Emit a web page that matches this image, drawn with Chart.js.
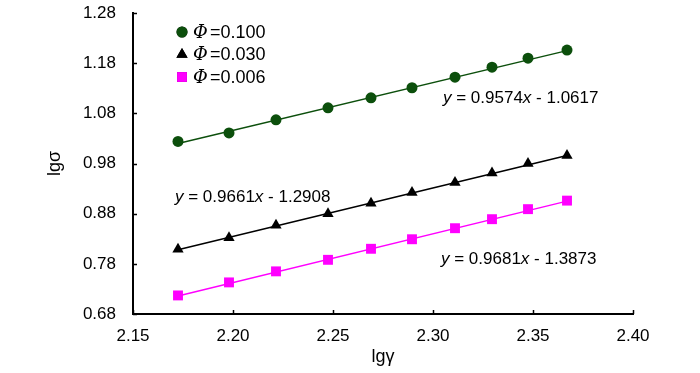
<!DOCTYPE html>
<html>
<head>
<meta charset="utf-8">
<script src="https://cdn.jsdelivr.net/npm/chart.js@4/dist/chart.umd.min.js"></script>
<style>
  html, body { margin: 0; padding: 0; background: #fff; }
  #wrap { width: 700px; height: 373px; }
</style>
</head>
<body>
<div id="wrap"><canvas id="grafica"></canvas></div>
<script>
// --------------------- DATOS ---------------------
const lgGamma = [2.1725, 2.198, 2.2215, 2.2475, 2.269, 2.2895, 2.311, 2.3295, 2.3475, 2.367];

const phi100 = [1.024, 1.041, 1.067, 1.091, 1.111, 1.131, 1.152, 1.172, 1.190, 1.206];
const phi030 = [0.809, 0.832, 0.857, 0.880, 0.901, 0.922, 0.942, 0.961, 0.980, 0.996];
const phi006 = [0.717, 0.743, 0.765, 0.788, 0.810, 0.829, 0.851, 0.869, 0.889, 0.906];

// extremos de las rectas de ajuste
const ajusteX = [2.1725, 2.367];
const ajuste100 = [1.020, 1.205];
const ajuste030 = [0.808, 0.996];
const ajuste006 = [0.716, 0.905];

const nombres = ["0.100", "0.030", "0.006"];
const ecuaciones = [
  ["0.9574", "1.0617"],
  ["0.9661", "1.2908"],
  ["0.9681", "1.3873"]
];

const ticksX = [2.15, 2.20, 2.25, 2.30, 2.35, 2.40];
const ticksY = [0.68, 0.78, 0.88, 0.98, 1.08, 1.18, 1.28];

const verde = '#0c4f0c';
const negro = '#000000';
const magenta = '#ff00ff';
const fuente = '"Liberation Sans", Arial, sans-serif';

function puntos(xs, ys) {
  return xs.map((x, i) => ({ x: x, y: ys[i] }));
}

// --------------------- TICKS HACIA ADENTRO, LEYENDA Y ECUACIONES ---------------------
const extras = {
  id: 'extras',
  afterDraw(chart) {
    const c = chart.ctx;
    const sx = chart.scales.x;
    const sy = chart.scales.y;
    const a = chart.chartArea;

    c.save();
    c.strokeStyle = '#000';
    c.lineWidth = 1.5;
    ticksX.forEach(v => {
      const px = Math.round(sx.getPixelForValue(v)) + 0.5;
      c.beginPath(); c.moveTo(px, a.bottom); c.lineTo(px, a.bottom - 4); c.stroke();
    });
    ticksY.forEach(v => {
      const py = Math.round(sy.getPixelForValue(v)) + 0.5;
      c.beginPath(); c.moveTo(a.left, py); c.lineTo(a.left + 4, py); c.stroke();
    });

    // leyenda
    const marcas = [chart.data.datasets[0], chart.data.datasets[1], chart.data.datasets[2]];
    marcas.forEach((ds, i) => {
      const y = 32 + i * 22.5;
      Chart.helpers.drawPoint(c, {
        pointStyle: ds.pointStyle,
        radius: ds.pointRadius,
        borderWidth: 0
      }, 182, y);
      c.fillStyle = ds.backgroundColor;
      c.fill();
      c.fillStyle = '#000';
      c.textBaseline = 'middle';
      c.textAlign = 'left';
      c.font = 'italic 18px "DejaVu Serif", serif';
      c.fillText('Φ', 193, y + 1);
      c.font = '18px ' + fuente;
      c.fillText('=' + nombres[i], 210, y + 1);
    });

    // ecuaciones
    const posiciones = [
      [sx.getPixelForValue(2.305), sy.getPixelForValue(1.110)],
      [sx.getPixelForValue(2.171), sy.getPixelForValue(0.913)],
      [sx.getPixelForValue(2.304), sy.getPixelForValue(0.789)]
    ];
    ecuaciones.forEach((e, i) => {
      let x = posiciones[i][0];
      const y = posiciones[i][1];
      const partes = [
        ['italic 17px ' + fuente, 'y'],
        ['17px ' + fuente, ' = ' + e[0]],
        ['italic 17px ' + fuente, 'x'],
        ['17px ' + fuente, ' - ' + e[1]]
      ];
      c.textBaseline = 'middle';
      c.textAlign = 'left';
      partes.forEach(p => {
        c.font = p[0];
        c.fillText(p[1], x, y);
        x += c.measureText(p[1]).width;
      });
    });
    c.restore();
  }
};

// --------------------- GRAFICA ---------------------
new Chart(document.getElementById('grafica'), {
  type: 'scatter',
  data: {
    datasets: [
      { label: 'Φ=0.100', data: puntos(lgGamma, phi100), pointStyle: 'circle', pointRadius: 5.5,
        backgroundColor: verde, borderColor: verde, borderWidth: 0 },
      { label: 'Φ=0.030', data: puntos(lgGamma, phi030), pointStyle: 'triangle', pointRadius: 6.5,
        backgroundColor: negro, borderColor: negro, borderWidth: 0 },
      { label: 'Φ=0.006', data: puntos(lgGamma, phi006), pointStyle: 'rect', pointRadius: 7,
        backgroundColor: magenta, borderColor: magenta, borderWidth: 0 },
      { data: puntos(ajusteX, ajuste100), showLine: true, pointRadius: 0, borderColor: verde, borderWidth: 1.5, order: 5 },
      { data: puntos(ajusteX, ajuste030), showLine: true, pointRadius: 0, borderColor: negro, borderWidth: 1.5, order: 5 },
      { data: puntos(ajusteX, ajuste006), showLine: true, pointRadius: 0, borderColor: magenta, borderWidth: 1.5, order: 5 }
    ]
  },
  options: {
    responsive: true,
    maintainAspectRatio: false,
    animation: false,
    layout: { padding: { top: 13, right: 67, left: 0, bottom: 0 } },
    plugins: {
      legend: { display: false },
      tooltip: { enabled: false }
    },
    scales: {
      x: {
        type: 'linear',
        min: 2.15,
        max: 2.40,
        afterBuildTicks: (s) => { s.ticks = ticksX.map(v => ({ value: v })); },
        afterFit: (s) => { s.height = 59; s.paddingLeft = 0; s.paddingRight = 0; },
        grid: { display: false },
        border: { display: true, color: '#000', width: 2 },
        ticks: {
          color: '#000',
          font: { family: fuente, size: 17 },
          padding: 4,
          maxRotation: 0,
          callback: (v) => v.toFixed(2)
        },
        title: {
          display: true,
          text: 'lgγ',
          color: '#000',
          font: { family: fuente, size: 18 },
          padding: { top: 0, bottom: 5 }
        }
      },
      y: {
        type: 'linear',
        min: 0.68,
        max: 1.28,
        afterBuildTicks: (s) => { s.ticks = ticksY.map(v => ({ value: v })); },
        afterFit: (s) => { s.width = 133; s.paddingTop = 0; s.paddingBottom = 0; },
        grid: { display: false },
        border: { display: true, color: '#000', width: 2 },
        ticks: {
          color: '#000',
          font: { family: fuente, size: 17 },
          padding: 9,
          callback: (v) => v.toFixed(2)
        },
        title: {
          display: true,
          text: 'lgσ',
          color: '#000',
          font: { family: fuente, size: 18 },
          padding: { top: 44, bottom: 0 }
        }
      }
    }
  },
  plugins: [extras]
});
</script>
</body>
</html>
